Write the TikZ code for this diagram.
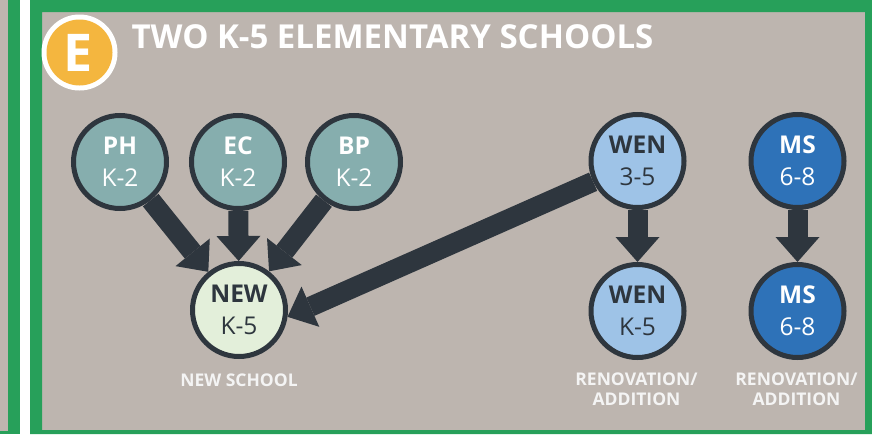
\documentclass[tikz,border=0pt]{standalone}
\usepackage{fontspec}
\setmainfont{Open Sans}
\usetikzlibrary{arrows.meta}
\definecolor{panelgrey}{HTML}{BDB5AF}
\definecolor{framegreen}{HTML}{27A05A}
\definecolor{badgegold}{HTML}{F4B63F}
\definecolor{inkdark}{HTML}{2E363E}
\definecolor{oldteal}{HTML}{86AEAE}
\definecolor{newmint}{HTML}{E3EFDA}
\definecolor{wenblue}{HTML}{9EC3E7}
\definecolor{msblue}{HTML}{2E72B8}
\definecolor{labelwhite}{HTML}{F4F4F4}

\begin{document}
\begin{tikzpicture}[x=1pt, y=-1pt,
  school/.style={circle, draw=inkdark, line width=5pt, minimum size=93pt, inner sep=0pt, align=center, font=\fontsize{24.5}{32}\selectfont},
  move/.style={inkdark, line width=20pt, -{Triangle[width=44pt, length=25pt, line width=0pt]}},
  caption/.style={labelwhite, align=center, font=\fontsize{17.5}{20.5}\selectfont\bfseries}]
  \useasboundingbox (0,0) rectangle (872,434);

  % Panel background and frames
  \fill[panelgrey] (0,0) rectangle (872,434);
  \fill[framegreen] (8,0) rectangle (20,434);
  \fill[framegreen] (0,431) rectangle (20,434);
  \fill[white] (20,0) rectangle (30,434);
  \fill[framegreen, even odd rule] (30,0) rectangle (872,434) (42,12) rectangle (865,430);

  % Badge and title
  \fill[white] (79.5,52.5) circle (38);
  \fill[badgegold] (79.5,52.5) circle (33);
  \node[white, font=\fontsize{52}{52}\selectfont\bfseries] (badge) at (78,53) {E};
  \node[white, anchor=base west, font=\fontsize{33}{33}\selectfont\bfseries] (title) at (128,48) {TWO K-5 ELEMENTARY SCHOOLS};

  % Current K-2 schools
  \foreach \name/\lbl/\x in {ph/PH/120, ec/EC/238, bp/BP/354} {
    \node[school, fill=oldteal, text=white] (\name) at (\x,162) {{\bfseries \lbl}\\K-2};
  }

  % Grade 3-5 and middle school
  \node[school, fill=wenblue, text=inkdark] (wen) at (637.5,161) {{\bfseries WEN}\\3-5};
  \node[school, fill=msblue, text=white] (ms) at (797.5,161) {{\bfseries MS}\\6-8};

  % Resulting schools
  \node[school, fill=newmint, text=inkdark] (new) at (239,310) {{\bfseries NEW}\\K-5};
  \node[school, fill=wenblue, text=inkdark] (wenk) at (637.5,311) {{\bfseries WEN}\\K-5};
  \node[school, fill=msblue, text=white] (msk) at (797.5,311) {{\bfseries MS}\\6-8};

  % Moves
  \draw[move] (ph) -- (new);
  \draw[move] (ec) -- (new);
  \draw[move] (bp) -- (new);
  \draw[move] (wen.205) -- (new.-8);
  \draw[move] (wen) -- (wenk);
  \draw[move] (ms) -- (msk);

  % Captions
  \node[caption] (newcap) at (239,380) {NEW SCHOOL};
  \node[caption] (wencap) at (636.5,389) {RENOVATION/\\ADDITION};
  \node[caption] (mscap) at (796.5,389) {RENOVATION/\\ADDITION};
\end{tikzpicture}
\end{document}
